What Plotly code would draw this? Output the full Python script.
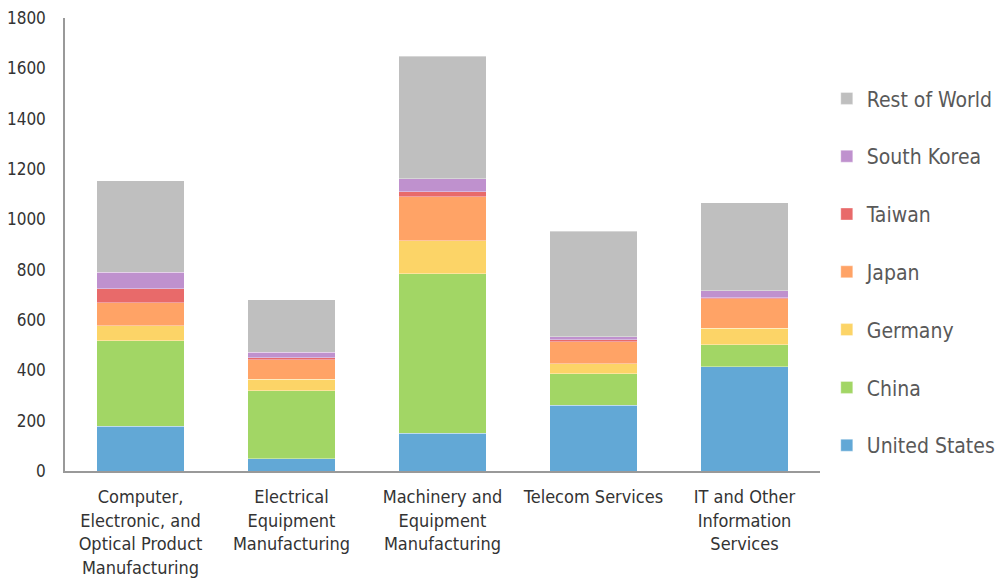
import plotly.graph_objects as go

categories = [
    "Computer,<br>Electronic, and<br>Optical Product<br>Manufacturing",
    "Electrical<br>Equipment<br>Manufacturing",
    "Machinery and<br>Equipment<br>Manufacturing",
    "Telecom Services",
    "IT and Other<br>Information<br>Services",
]

united_states = [178, 49, 150, 261, 415]
china = [340, 270, 634, 126, 87]
germany = [59, 46, 131, 39, 66]
japan = [91, 78, 175, 87, 116]
taiwan = [57, 8, 19, 8, 5]
south_korea = [64, 21, 52, 13, 28]
rest_of_world = [364, 208, 487, 418, 348]

series = [
    ("United States", united_states, "#62A8D6"),
    ("China", china, "#A2D665"),
    ("Germany", germany, "#FCD467"),
    ("Japan", japan, "#FFA366"),
    ("Taiwan", taiwan, "#E86A6A"),
    ("South Korea", south_korea, "#BF91CE"),
    ("Rest of World", rest_of_world, "#BFBFBF"),
]

FONT = "DejaVu Sans Condensed, Roboto, sans-serif"

fig = go.Figure()
n = len(series)
for i, (name, vals, color) in enumerate(series):
    fig.add_trace(go.Bar(
        name=name, x=categories, y=vals,
        marker=dict(color=color, line=dict(width=0.6, color="rgba(255,255,255,0.6)")),
        legendgroup=name,
        legendrank=n - i,
    ))

fig.update_layout(
    barmode="stack",
    bargap=0.42,
    width=1000, height=585,
    margin=dict(l=65, r=180, t=18, b=114, autoexpand=False),
    paper_bgcolor="white", plot_bgcolor="white",
    font=dict(family=FONT, color="#333333", size=18),
    legend=dict(
        traceorder="grouped",
        x=1.009, xanchor="left", y=0.867, yanchor="top",
        font=dict(size=21, color="#595959"),
        tracegroupgap=27.5,
        itemwidth=30,
        bgcolor="rgba(0,0,0,0)",
    ),
    showlegend=True,
)
fig.update_yaxes(
    range=[0, 1800], dtick=200,
    showline=True, linecolor="#999999", linewidth=1.5,
    showgrid=False, zeroline=False, ticks="",
    tickfont=dict(size=17, color="#333333"),
    ticklabelstandoff=14,
)
fig.update_xaxes(
    showline=True, linecolor="#999999", linewidth=1.5,
    showgrid=False, ticks="",
    tickfont=dict(size=18, color="#333333"),
    ticklabelstandoff=9,
)

fig.write_html("out.html")
